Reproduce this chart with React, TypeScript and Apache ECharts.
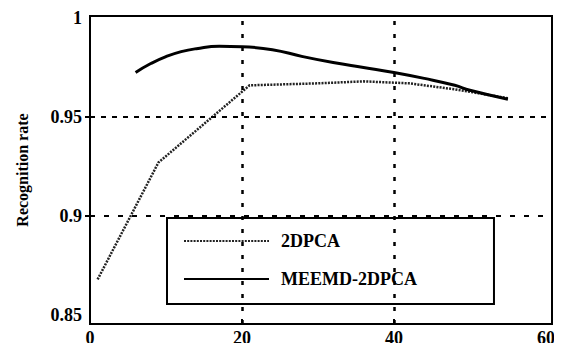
import React, { useEffect, useRef } from "react";
import * as echarts from "echarts";

// Data
const pcaX = [1, 9, 21, 30, 36, 42, 48, 55];
const pcaY = [0.868, 0.927, 0.966, 0.967, 0.968, 0.967, 0.964, 0.9595];

const meemdX = [6, 8, 10, 12, 14, 17, 20, 24, 28, 32, 36, 40, 44, 48, 50, 55];
const meemdY = [0.9725, 0.977, 0.9805, 0.983, 0.9845, 0.9857, 0.9855, 0.984, 0.9805, 0.9775, 0.975, 0.9725, 0.9695, 0.966, 0.9635, 0.959];

const xTickLabels = [0, 20, 40, 60];
const yTickLabels = [0.85, 0.9, 0.95, 1];
const hGrid = [0.95, 0.9];
const vGrid = [20, 40];

const seriesNames = ["2DPCA", "MEEMD-2DPCA"];

const FONT = '"Liberation Serif", "Times New Roman", serif';

export default function App() {
  const ref = useRef<HTMLDivElement>(null);
  useEffect(() => {
    if (!ref.current) return;
    const chart = echarts.init(ref.current, null, { renderer: "svg" });
    chart.setOption({
      animation: false,
      backgroundColor: "#fff",
      grid: {
        left: 90,
        right: 10,
        top: 16,
        bottom: 27,
        show: true,
        borderColor: "#000",
        borderWidth: 2,
      },
      xAxis: {
        type: "value",
        min: 0,
        max: 60.8,
        axisLine: { show: true, lineStyle: { color: "#000", width: 2 } },
        axisTick: {
          show: true,
          inside: true,
          length: 5,
          customValues: vGrid,
          lineStyle: { color: "#000", width: 2 },
        },
        axisLabel: {
          customValues: xTickLabels,
          margin: 5,
          color: "#000",
          fontFamily: FONT,
          fontWeight: "bold",
          fontSize: 18,
        },
        splitLine: { show: false },
      },
      yAxis: {
        type: "value",
        min: 0.8455,
        max: 1.001,
        name: "Recognition rate",
        nameLocation: "middle",
        nameRotate: 90,
        nameGap: 60,
        nameTextStyle: {
          color: "#000",
          fontFamily: FONT,
          fontWeight: "bold",
          fontSize: 16,
        },
        axisLine: { show: true, lineStyle: { color: "#000", width: 2 } },
        axisTick: {
          show: true,
          length: 5,
          customValues: hGrid,
          lineStyle: { color: "#000", width: 2 },
        },
        axisLabel: {
          customValues: yTickLabels,
          margin: 8,
          color: "#000",
          fontFamily: FONT,
          fontWeight: "bold",
          fontSize: 18,
          formatter: (v: number) => String(v),
        },
        splitLine: { show: false },
      },
      legend: {
        data: seriesNames,
        orient: "vertical",
        left: 167,
        top: 218,
        padding: [14, 77, 16, 16],
        itemWidth: 85,
        itemHeight: 20,
        itemGap: 20,
        borderColor: "#000",
        borderWidth: 2,
        backgroundColor: "#fff",
        itemStyle: { opacity: 0 },
        textStyle: {
          color: "#000",
          fontFamily: FONT,
          fontWeight: "bold",
          fontSize: 18,
          padding: [0, 0, 0, 7],
        },
      },
      series: [
        {
          name: seriesNames[0],
          type: "line",
          data: pcaX.map((x, i) => [x, pcaY[i]]),
          symbol: "none",
          showSymbol: false,
          lineStyle: { color: "#222", width: 2.5, type: [2, 1.2] },
          itemStyle: { color: "#222" },
          markLine: {
            silent: true,
            symbol: "none",
            label: { show: false },
            data: [
              { yAxis: hGrid[0], lineStyle: { color: "#000", width: 2, type: [5, 6] } },
              { yAxis: hGrid[1], lineStyle: { color: "#000", width: 2, type: [5, 9] } },
              { xAxis: vGrid[0], lineStyle: { color: "#000", width: 2.5, type: [4, 9] } },
              { xAxis: vGrid[1], lineStyle: { color: "#000", width: 2.5, type: [4, 9] } },
            ],
          },
          z: 3,
        },
        {
          name: seriesNames[1],
          type: "line",
          data: meemdX.map((x, i) => [x, meemdY[i]]),
          smooth: true,
          symbol: "none",
          showSymbol: false,
          lineStyle: { color: "#000", width: 3, type: "solid" },
          itemStyle: { color: "#000" },
          z: 3,
        },
      ],
    });
    return () => chart.dispose();
  }, []);
  return <div ref={ref} style={{ width: 562, height: 351, margin: -8 }} />;
}
